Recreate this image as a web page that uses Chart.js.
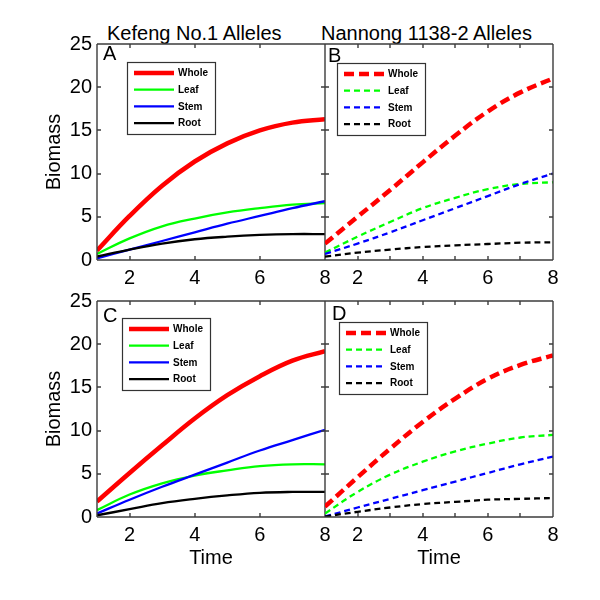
<!DOCTYPE html>
<html>
<head>
<meta charset="utf-8">
<script src="https://cdn.jsdelivr.net/npm/chart.js@4.4.1/dist/chart.umd.min.js"></script>
<style>
  body { margin: 0; background: #fff; }
  #fig { position: relative; width: 600px; height: 600px; overflow: hidden; background: #fff; }
  .panel { position: absolute; }
  .colTitle { position: absolute; font: 20px 'Liberation Sans', Arial, sans-serif; line-height: 20px; white-space: nowrap; color: #000; }
</style>
</head>
<body>
<div id="fig">
  <div class="colTitle" style="left:107px; top:23px">Kefeng No.1 Alleles</div>
  <div class="colTitle" style="left:321px; top:23px">Nannong 1138-2 Alleles</div>
</div>
<script>
const time = [1, 2, 3, 4, 5, 6, 7, 8];
const seriesNames = ['Whole', 'Leaf', 'Stem', 'Root'];
const seriesColors = ['#ff0000', '#00ff00', '#0000ff', '#000000'];
const xTickLabels = [2, 4, 6, 8];
const yTickLabels = [0, 5, 10, 15, 20, 25];
const xMarksLeft = [2, 4, 6];
const xMarksRight = [2, 3, 4, 5, 6, 7];

// A - Kefeng No.1 alleles
const aWhole = [1.1, 5.1, 8.6, 11.4, 13.5, 15.0, 15.9, 16.3];
const aLeaf  = [0.7, 2.5, 3.9, 4.8, 5.5, 6.0, 6.4, 6.6];
const aStem  = [0.2, 1.2, 2.2, 3.2, 4.2, 5.1, 6.0, 6.8];
const aRoot  = [0.4, 1.2, 1.9, 2.4, 2.7, 2.9, 3.0, 3.0];

// B - Nannong 1138-2 alleles
const bWhole = [1.9, 5.0, 8.1, 11.3, 14.4, 17.2, 19.4, 21.0];
const bLeaf  = [0.85, 2.7, 4.4, 6.0, 7.2, 8.2, 8.8, 9.0];
const bStem  = [0.7, 1.9, 3.2, 4.6, 6.0, 7.4, 8.8, 10.0];
const bRoot  = [0.4, 0.85, 1.2, 1.5, 1.7, 1.85, 2.0, 2.05];

// C - Kefeng No.1 alleles
const cWhole = [1.8, 5.1, 8.3, 11.4, 14.1, 16.3, 18.1, 19.2];
const cLeaf  = [0.8, 2.6, 3.9, 4.8, 5.4, 5.9, 6.1, 6.1];
const cStem  = [0.4, 2.0, 3.5, 4.9, 6.3, 7.7, 8.9, 10.1];
const cRoot  = [0.2, 0.9, 1.6, 2.1, 2.5, 2.8, 2.9, 2.9];

// D - Nannong 1138-2 alleles
const dWhole = [1.2, 4.6, 7.9, 11.0, 13.7, 16.0, 17.6, 18.7];
const dLeaf  = [0.4, 2.9, 4.9, 6.4, 7.6, 8.5, 9.2, 9.5];
const dStem  = [0.05, 1.1, 2.1, 3.1, 4.1, 5.1, 6.1, 7.0];
const dRoot  = [0.05, 0.6, 1.1, 1.5, 1.75, 2.0, 2.1, 2.2];

const FONT = "'Liberation Sans', Arial, sans-serif";
Chart.defaults.font.family = FONT;
Chart.defaults.color = '#000';

const PW = 228, PH = 216;

const panels = [
  { letter: 'A', series: [aWhole, aLeaf, aStem, aRoot], dashed: false, left: 97, top: 44,
    yLabels: true, xTitle: false, xMarks: xMarksLeft, legend: { x: 30, y: 18 }, letterPos: { x: 6, y: 16 } },
  { letter: 'B', series: [bWhole, bLeaf, bStem, bRoot], dashed: true, left: 325, top: 44,
    yLabels: false, xTitle: false, xMarks: xMarksRight, legend: { x: 12, y: 19 }, letterPos: { x: 3, y: 18 } },
  { letter: 'C', series: [cWhole, cLeaf, cStem, cRoot], dashed: false, left: 97, top: 301,
    yLabels: true, xTitle: true, xMarks: xMarksLeft, legend: { x: 25, y: 17 }, letterPos: { x: 6, y: 21 } },
  { letter: 'D', series: [dWhole, dLeaf, dStem, dRoot], dashed: true, left: 325, top: 301,
    yLabels: false, xTitle: true, xMarks: xMarksRight, legend: { x: 14, y: 21 }, letterPos: { x: 7, y: 19 } }
];

function lineStyle(i, dashed) {
  const whole = i === 0;
  return {
    width: whole ? 4.5 : 2.3,
    dash: dashed ? (whole ? [10, 5] : [6, 4]) : []
  };
}

// axes box with inward ticks, panel letter and the boxed legend
const framePlugin = {
  id: 'frame',
  afterDraw(chart, args, opts) {
    const { ctx, chartArea: a, scales: { x, y } } = chart;
    const l = a.left, r = a.right, t = a.top, b = a.bottom;
    ctx.save();
    ctx.setLineDash([]);
    ctx.strokeStyle = '#3c3c3c';
    ctx.lineWidth = 1.4;
    ctx.beginPath();
    for (const v of opts.xMarks) {
      const px = Math.round(x.getPixelForValue(v));
      ctx.moveTo(px, b); ctx.lineTo(px, b - 4);
      ctx.moveTo(px, t); ctx.lineTo(px, t + 4);
    }
    for (const v of yTickLabels.slice(1, -1)) {
      const py = Math.round(y.getPixelForValue(v));
      ctx.moveTo(l, py); ctx.lineTo(l + 4, py);
      ctx.moveTo(r, py); ctx.lineTo(r - 4, py);
    }
    ctx.stroke();
    ctx.beginPath();
    ctx.moveTo(l, t); ctx.lineTo(r, t);
    ctx.moveTo(r, t); ctx.lineTo(r, b);
    ctx.moveTo(r, b); ctx.lineTo(l, b);
    if (opts.leftEdge) { ctx.moveTo(l, b); ctx.lineTo(l, t); }
    ctx.stroke();

    ctx.fillStyle = '#000';
    ctx.font = '20px ' + FONT;
    ctx.textBaseline = 'alphabetic';
    ctx.textAlign = 'left';
    ctx.fillText(opts.letter, l + opts.letterPos.x, t + opts.letterPos.y);

    const bx = l + opts.legend.x, by = t + opts.legend.y;
    const bw = 88, bh = 72;
    ctx.fillStyle = '#fff';
    ctx.fillRect(bx, by, bw, bh);
    ctx.strokeStyle = '#333';
    ctx.lineWidth = 1.2;
    ctx.strokeRect(bx + 0.5, by + 0.5, bw, bh);
    ctx.font = 'bold 10px ' + FONT;
    ctx.textBaseline = 'middle';
    seriesNames.forEach((name, i) => {
      const ry = by + 11 + i * 16.7;
      const st = lineStyle(i, opts.dashed);
      ctx.beginPath();
      ctx.setLineDash(st.dash);
      ctx.lineWidth = st.width;
      ctx.strokeStyle = seriesColors[i];
      ctx.moveTo(bx + 7, ry);
      ctx.lineTo(bx + 47, ry);
      ctx.stroke();
      ctx.setLineDash([]);
      ctx.fillStyle = '#000';
      ctx.fillText(name, bx + 51, ry + 0.5);
    });
    ctx.restore();
  }
};

const fig = document.getElementById('fig');

panels.forEach(p => {
  const L = p.yLabels ? p.left : 5;
  const T = 20, R = 15, B = 62;
  const W = L + PW + R, H = T + PH + B;

  const wrap = document.createElement('div');
  wrap.className = 'panel';
  wrap.style.left = (p.left - L) + 'px';
  wrap.style.top = (p.top - T) + 'px';
  wrap.style.width = W + 'px';
  wrap.style.height = H + 'px';
  const canvas = document.createElement('canvas');
  canvas.width = W;
  canvas.height = H;
  wrap.appendChild(canvas);
  fig.appendChild(wrap);

  new Chart(canvas, {
    type: 'line',
    data: {
      datasets: p.series.map((vals, i) => {
        const st = lineStyle(i, p.dashed);
        return {
          label: seriesNames[i],
          data: time.map((t, k) => ({ x: t, y: vals[k] })),
          borderColor: seriesColors[i],
          borderWidth: st.width,
          borderDash: st.dash,
          borderCapStyle: 'butt',
          pointRadius: 0,
          fill: false,
          tension: 0.4
        };
      }).reverse()
    },
    options: {
      responsive: false,
      animation: false,
      devicePixelRatio: 1,
      layout: { padding: { left: 0, top: T, right: R, bottom: 0 } },
      plugins: {
        legend: { display: false },
        tooltip: { enabled: false },
        frame: { xMarks: p.xMarks, letter: p.letter, letterPos: p.letterPos, legend: p.legend,
                 dashed: p.dashed, leftEdge: p.yLabels }
      },
      scales: {
        x: {
          type: 'linear',
          min: 1, max: 8,
          afterBuildTicks: s => { s.ticks = xTickLabels.map(v => ({ value: v })); },
          afterFit: s => { s.height = B; },
          grid: { display: false, drawTicks: false },
          border: { display: false },
          ticks: { font: { size: 20 }, padding: 6, maxRotation: 0, color: '#000' },
          title: { display: p.xTitle, text: 'Time', font: { size: 20 }, padding: { top: 0, bottom: 9 }, color: '#000' }
        },
        y: {
          type: 'linear',
          min: 0, max: 25,
          afterBuildTicks: s => { s.ticks = yTickLabels.map(v => ({ value: v })); },
          afterFit: s => { s.width = L; },
          grid: { display: false, drawTicks: false },
          border: { display: false },
          ticks: { display: p.yLabels, font: { size: 20 }, padding: 5, color: '#000' },
          title: { display: p.yLabels, text: 'Biomass', font: { size: 20 }, padding: { top: 42, bottom: 0 }, color: '#000' }
        }
      }
    },
    plugins: [framePlugin]
  });
});
</script>
</body>
</html>
